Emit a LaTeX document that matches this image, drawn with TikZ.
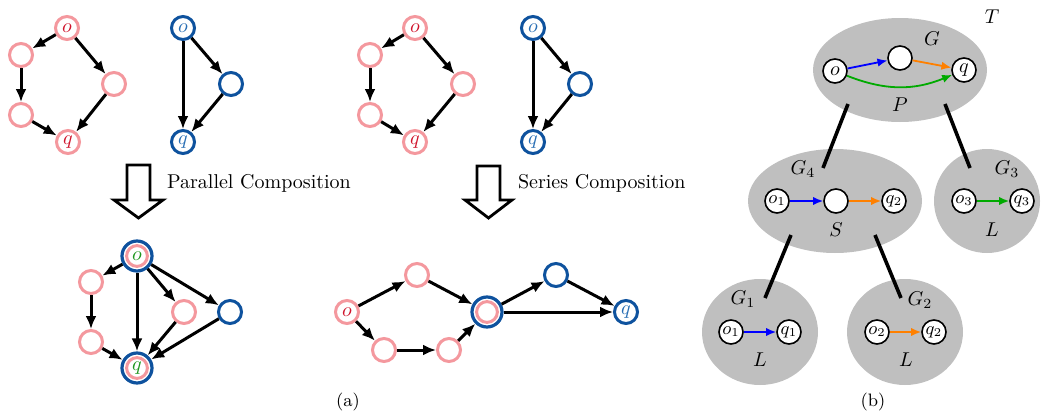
\documentclass[tikz,border=0pt]{standalone}
\usepackage{amsmath}
\usepackage{tikz}
\usetikzlibrary{arrows.meta,shapes.geometric,calc}

\definecolor{pinkc}{RGB}{244,152,158}
\definecolor{redc}{RGB}{208,20,44}
\definecolor{bluec}{RGB}{14,82,158}
\definecolor{lbluec}{RGB}{40,110,180}
\definecolor{greenc}{RGB}{30,150,30}
\definecolor{eblue}{RGB}{0,0,255}
\definecolor{eorange}{RGB}{255,128,0}
\definecolor{egreen}{RGB}{0,170,0}

\tikzset{
  pnode/.style={circle,draw=pinkc,line width=1.5pt,fill=white,minimum size=11.5pt,inner sep=0pt,text=redc},
  bnode/.style={circle,draw=bluec,line width=1.5pt,fill=white,minimum size=11.5pt,inner sep=0pt,text=lbluec},
  dnode/.style={circle,draw=bluec,line width=1.6pt,fill=white,minimum size=15pt,inner sep=0pt,text=greenc,
    path picture={\draw[pinkc,line width=1.5pt] (path picture bounding box.center) circle (5.2pt);}},
  arr/.style={-{Latex[length=6.5pt,width=5.5pt]},line width=1.5pt},
  blockarr/.style={line width=1.4pt},
  wnode/.style={circle,draw,fill=white,line width=0.8pt,minimum size=12pt,inner sep=0pt},
  blob/.style={ellipse,fill=gray!50,inner sep=0pt},
  earr/.style={-{Latex[length=5pt,width=4.2pt]},line width=0.9pt},
  tline/.style={line width=1.8pt}
}

\begin{document}
\begin{tikzpicture}[x=5pt,y=-5pt]

\useasboundingbox (0,0) rectangle (104.4,41.2);

%% (a) the two graphs to be composed in parallel
\node[pnode] (po)  at (6.7,2.8)  {$o$};
\node[pnode] (pl)  at (2.1,5.5)  {};
\node[pnode] (pll) at (2.1,11.5) {};
\node[pnode] (pq)  at (6.8,14.2) {$q$};
\node[pnode] (pr)  at (11.4,8.4) {};
\draw[arr] (po) -- (pl);
\draw[arr] (pl) -- (pll);
\draw[arr] (pll) -- (pq);
\draw[arr] (po) -- (pr);
\draw[arr] (pr) -- (pq);

\node[bnode] (bo) at (18.3,2.8)  {$o$};
\node[bnode] (br) at (23.1,8.4)  {};
\node[bnode] (bq) at (18.3,14.2) {$q$};
\draw[arr] (bo) -- (bq);
\draw[arr] (bo) -- (br);
\draw[arr] (br) -- (bq);

%% the two graphs to be composed in series
\node[pnode] (qo)  at (41.5,2.8)  {$o$};
\node[pnode] (ql)  at (37.0,5.5)  {};
\node[pnode] (qll) at (37.0,11.5) {};
\node[pnode] (qq)  at (41.5,14.2) {$q$};
\node[pnode] (qr)  at (46.3,8.4)  {};
\draw[arr] (qo) -- (ql);
\draw[arr] (ql) -- (qll);
\draw[arr] (qll) -- (qq);
\draw[arr] (qo) -- (qr);
\draw[arr] (qr) -- (qq);

\node[bnode] (ro) at (53.3,2.8)  {$o$};
\node[bnode] (rr) at (58.0,8.4)  {};
\node[bnode] (rq) at (53.3,14.2) {$q$};
\draw[arr] (ro) -- (rq);
\draw[arr] (ro) -- (rr);
\draw[arr] (rr) -- (rq);

%% the hollow arrows
\draw[blockarr] (12.7,16.5) -- (15.0,16.5) -- (15.0,20.0) -- (16.3,20.0)
  -- (13.85,21.8) -- (11.4,20.0) -- (12.7,20.0) -- cycle;
\node[anchor=west] (partxt) at (16.0,18.3) {Parallel Composition};
\draw[blockarr] (47.7,16.6) -- (50.0,16.6) -- (50.0,20.0) -- (51.2,20.0)
  -- (48.85,21.8) -- (46.5,20.0) -- (47.7,20.0) -- cycle;
\node[anchor=west] (sertxt) at (51.1,18.3) {Series Composition};

%% parallel result
\node[dnode] (co)  at (13.7,25.6) {$o$};
\node[pnode] (cl)  at (9.1,28.2)  {};
\node[pnode] (cll) at (9.1,34.2)  {};
\node[dnode] (cq)  at (13.7,36.8) {$q$};
\node[pnode] (cpr) at (18.4,31.2) {};
\node[bnode] (cbr) at (23.0,31.2) {};
\draw[arr] (co) -- (cl);
\draw[arr] (cl) -- (cll);
\draw[arr] (cll) -- (cq);
\draw[arr] (co) -- (cq);
\draw[arr] (co) -- (cpr);
\draw[arr] (co) -- (cbr);
\draw[arr] (cpr) -- (cq);
\draw[arr] (cbr) -- (cq);

%% series result
\node[pnode] (so)  at (34.7,31.2) {$o$};
\node[pnode] (st)  at (41.7,27.5) {};
\node[pnode] (sl1) at (38.4,35.0) {};
\node[pnode] (sl2) at (44.9,35.0) {};
\node[dnode] (sm)  at (48.7,31.2) {};
\node[bnode] (sbt) at (55.6,27.5) {};
\node[bnode] (sq)  at (62.6,31.2) {$q$};
\draw[arr] (so) -- (st);
\draw[arr] (so) -- (sl1);
\draw[arr] (sl1) -- (sl2);
\draw[arr] (sl2) -- (sm);
\draw[arr] (st) -- (sm);
\draw[arr] (sm) -- (sbt);
\draw[arr] (sbt) -- (sq);
\draw[arr] (sm) -- (sq);

\node (capa) at (34.8,40.2) {\small (a)};

%% (b) the decomposition tree
\node[blob,minimum width=87pt,minimum height=52pt] (G)  at (90.0,7.0)  {};
\node[blob,minimum width=87pt,minimum height=52pt] (G4) at (83.5,20.1) {};
\node[blob,minimum width=53pt,minimum height=52pt] (G3) at (98.7,20.1) {};
\node[blob,minimum width=58pt,minimum height=53pt] (G1) at (76.0,33.2) {};
\node[blob,minimum width=58pt,minimum height=53pt] (G2) at (90.5,33.2) {};

% tree edges
\draw[tline] ($(G)+(-5.2,3.4)$) -- ($(G4)+(-1.2,-3.3)$);
\draw[tline] ($(G)+(4.5,3.4)$) -- ($(G3)+(-1.7,-3.3)$);
\draw[tline] ($(G4)+(-4.4,3.4)$) -- ($(G1)+(0.5,-3.4)$);
\draw[tline] ($(G4)+(4.0,3.4)$) -- ($(G2)+(-0.4,-3.4)$);

% root
\node (T) at (99.2,1.7) {$T$};
\node (Glab) at (93.2,3.9) {$G$};
\node[wnode] (o)  at (83.5,7.1) {$o$};
\node[wnode] (m)  at (90.0,5.8) {};
\node[wnode] (q)  at (96.4,7.0) {$q$};
\node (P) at (90.0,10.5) {$P$};
\draw[earr,eblue] (o) -- (m);
\draw[earr,eorange] (m) -- (q);
\draw[earr,egreen] (o) to[bend right=22] (q);

% G4
\node (G4lab) at (80.3,16.9) {$G_4$};
\node[wnode] (o1) at (77.7,20.1) {\small$o_1$};
\node[wnode] (m4) at (83.6,20.1) {};
\node[wnode] (q2) at (89.4,20.1) {\small$q_2$};
\node (S) at (83.6,23.0) {$S$};
\draw[earr,eblue] (o1) -- (m4);
\draw[earr,eorange] (m4) -- (q2);

% G3
\node (G3lab) at (100.7,16.9) {$G_3$};
\node[wnode] (o3) at (96.4,20.1) {\small$o_3$};
\node[wnode] (q3) at (102.2,20.1) {\small$q_3$};
\node (L3) at (99.2,23.0) {$L$};
\draw[earr,egreen] (o3) -- (q3);

% G1
\node (G1lab) at (74.3,29.9) {$G_1$};
\node[wnode] (o1b) at (73.1,33.2) {\small$o_1$};
\node[wnode] (q1b) at (78.9,33.2) {\small$q_1$};
\node (L1) at (76.0,36.0) {$L$};
\draw[earr,eblue] (o1b) -- (q1b);

% G2
\node (G2lab) at (92.0,30.0) {$G_2$};
\node[wnode] (o2b) at (87.7,33.2) {\small$o_2$};
\node[wnode] (q2b) at (93.4,33.2) {\small$q_2$};
\node (L2) at (90.6,36.0) {$L$};
\draw[earr,eorange] (o2b) -- (q2b);

\node (capb) at (87.3,40.2) {\small (b)};

\end{tikzpicture}
\end{document}
